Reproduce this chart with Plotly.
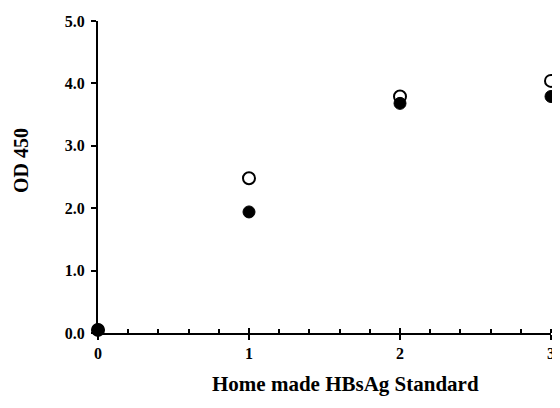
import plotly.graph_objects as go

x_vals = [0, 1, 2, 3]
open_vals = [0.05, 2.48, 3.79, 4.04]
filled_vals = [0.05, 1.94, 3.68, 3.79]
y_ticks = [0, 1, 2, 3, 4, 5]
y_tick_labels = ["0.0", "1.0", "2.0", "3.0", "4.0", "5.0"]
x_ticks = [0, 1, 2, 3]
x_title = "Home made HBsAg Standard"
y_title = "OD 450"

FONT = "Liberation Serif, Times New Roman, serif"

fig = go.Figure()
fig.add_trace(go.Scatter(
    x=x_vals, y=open_vals, mode="markers",
    marker=dict(symbol="circle", size=12, color="white",
                line=dict(color="black", width=2)),
    cliponaxis=False, showlegend=False))
fig.add_trace(go.Scatter(
    x=x_vals, y=filled_vals, mode="markers",
    marker=dict(symbol="circle", size=12, color="black",
                line=dict(color="black", width=1)),
    cliponaxis=False, showlegend=False))
# invisible trace to anchor overlay axis for crossing major ticks
fig.add_trace(go.Scatter(x=[0], y=[0], xaxis="x2", mode="markers",
                         marker=dict(opacity=0), showlegend=False, hoverinfo="skip"))

fig.update_layout(
    width=552, height=400,
    margin=dict(l=90, r=5, t=11, b=75),
    plot_bgcolor="white", paper_bgcolor="white",
    font=dict(family=FONT, color="black"),
    xaxis=dict(
        range=[0, 3], tickvals=x_ticks, ticktext=[str(v) for v in x_ticks],
        showgrid=False, zeroline=False,
        showline=True, linecolor="black", linewidth=2,
        ticks="outside", ticklen=5, tickwidth=2, tickcolor="black",
        minor=dict(ticks="inside", dtick=0.2, tick0=0, ticklen=4, tickwidth=2,
                   tickcolor="black", showgrid=False),
        tickfont=dict(family=FONT, size=16, weight="bold"),
    ),
    xaxis2=dict(
        range=[0, 3], overlaying="x", tickvals=x_ticks, showticklabels=False,
        ticks="inside", ticklen=5, tickwidth=2, tickcolor="black",
        showgrid=False, zeroline=False, showline=False, side="bottom", anchor="y",
    ),
    yaxis=dict(
        range=[0, 5], tickvals=y_ticks, ticktext=y_tick_labels,
        showgrid=False, zeroline=False,
        showline=True, linecolor="black", linewidth=2,
        ticks="outside", ticklen=5, tickwidth=2, tickcolor="black",
        tickfont=dict(family=FONT, size=16, weight="bold"),
        ticklabelstandoff=3,
    ),
    annotations=[
        dict(text=x_title, xref="paper", yref="paper", x=0.547, y=0,
             yshift=-51, xanchor="center", yanchor="middle", showarrow=False,
             font=dict(family=FONT, size=21, weight="bold")),
        dict(text=y_title, xref="paper", yref="paper", x=0, y=0.551,
             xshift=-77, xanchor="center", yanchor="middle", textangle=-90,
             showarrow=False, font=dict(family=FONT, size=20, weight="bold")),
    ],
)

fig.write_html("out.html")
